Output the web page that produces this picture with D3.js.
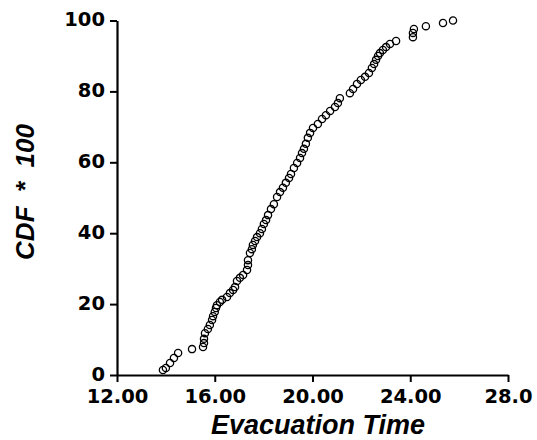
<!DOCTYPE html>
<html>
<head>
<meta charset="utf-8">
<script src="https://cdn.jsdelivr.net/npm/d3@7"></script>
<style>
  body { margin: 0; background: #fff; }
  svg text { font-family: "Liberation Sans", Arial, sans-serif; }
</style>
</head>
<body>
<div id="chart"></div>
<script>
// evacuation times
const evacTime = [
  13.88, 14.0, 14.17, 14.33, 14.5, 15.07, 15.52, 15.56, 15.56, 15.6,
  15.72, 15.8, 15.89, 15.93, 16.0, 16.05, 16.09, 16.21, 16.3, 16.5,
  16.62, 16.75, 16.83, 16.91, 17.03, 17.16, 17.32, 17.36, 17.36, 17.44,
  17.52, 17.56, 17.65, 17.73, 17.85, 17.93, 18.01, 18.1, 18.18, 18.3,
  18.42, 18.55, 18.67, 18.79, 18.91, 19.04, 19.12, 19.24, 19.37, 19.49,
  19.57, 19.65, 19.73, 19.81, 19.9, 20.02, 20.22, 20.39, 20.55, 20.72,
  20.92, 21.04, 21.12, 21.53, 21.66, 21.82, 21.98, 22.15, 22.31, 22.43,
  22.52, 22.6, 22.68, 22.76, 22.88, 23.01, 23.17, 23.42, 24.11, 24.11,
  24.15, 24.64, 25.34, 25.75
];
// CDF * 100 for each point
const cdfValue = [
  1.4, 2, 3.4, 4.8, 6.2, 7.3, 7.9, 9, 10.2, 11.8,
  13, 14.1, 15.5, 16.6, 17.8, 18.9, 19.7, 20.6, 21.2, 22,
  23.1, 24, 24.8, 26.5, 27.4, 28.2, 29.6, 31, 32.4, 34.4,
  35.5, 36.7, 37.8, 38.9, 40, 41.2, 42.6, 43.7, 45.1, 46.8,
  48.2, 50.2, 51.6, 52.8, 54.2, 55.6, 56.7, 58.4, 59.8, 61.2,
  62.6, 63.8, 65.2, 66.9, 68.3, 69.7, 70.8, 72.2, 73.3, 74.5,
  75.6, 76.7, 78.1, 79.5, 80.7, 82.1, 83.2, 84.1, 85.2, 86.6,
  87.7, 88.9, 90, 90.8, 91.7, 92.5, 93.4, 94.2, 95.3, 96.5,
  97.6, 98.4, 99.3, 100
];
const xTicks = [12, 16, 20, 24, 28];
const xTickLabels = ["12.00", "16.00", "20.00", "24.00", "28.0"];
const yTicks = [0, 20, 40, 60, 80, 100];

const data = evacTime.map((t, i) => ({ t: t, c: cdfValue[i] }));

const W = 537, H = 440;
const margin = { top: 20.5, right: 29, bottom: 65, left: 117 };
const width = W - margin.left - margin.right;
const height = H - margin.top - margin.bottom;

const svg = d3.select("#chart").append("svg")
    .attr("width", W)
    .attr("height", H);

const g = svg.append("g")
    .attr("transform", `translate(${margin.left},${margin.top})`);

const x = d3.scaleLinear().domain([12, 28]).range([0, width]);
const y = d3.scaleLinear().domain([0, 100]).range([height, 0]);

// axes
const xAxis = g.append("g")
    .attr("transform", `translate(0,${height})`)
    .call(d3.axisBottom(x).tickValues(xTicks).tickSize(7).tickSizeOuter(0).tickPadding(7)
        .tickFormat((d, i) => xTickLabels[i]));

const yAxis = g.append("g")
    .call(d3.axisLeft(y).tickValues(yTicks).tickSize(7).tickSizeOuter(0).tickPadding(5));

[xAxis, yAxis].forEach(a => {
    a.select(".domain").attr("stroke", "#000").attr("stroke-width", 2.2);
    a.selectAll(".tick line").attr("stroke", "#000").attr("stroke-width", 2);
    a.selectAll("text")
        .attr("fill", "#000")
        .style("font-family", "'DejaVu Sans', sans-serif")
        .style("font-size", "19.5px")
        .style("font-weight", "bold");
});
xAxis.selectAll("text").attr("dy", "0.72em");
yAxis.selectAll("text").attr("dy", "0.27em");

// points
g.selectAll("circle.pt")
    .data(data)
    .enter().append("circle")
        .attr("class", "pt")
        .attr("cx", d => x(d.t))
        .attr("cy", d => y(d.c))
        .attr("r", 3.6)
        .attr("fill", "none")
        .attr("stroke", "#000")
        .attr("stroke-width", 1.3);

// axis titles
svg.append("text")
    .attr("x", 318)
    .attr("y", 434)
    .attr("text-anchor", "middle")
    .style("font-size", "27px")
    .style("font-weight", "bold")
    .style("font-style", "italic")
    .text("Evacuation Time");

svg.append("text")
    .attr("transform", "translate(34,192) rotate(-90)")
    .attr("text-anchor", "middle")
    .style("font-size", "26px")
    .style("font-weight", "bold")
    .style("font-style", "italic")
    .style("white-space", "pre")
    .attr("xml:space", "preserve")
    .text("CDF  *  100");
</script>
</body>
</html>
